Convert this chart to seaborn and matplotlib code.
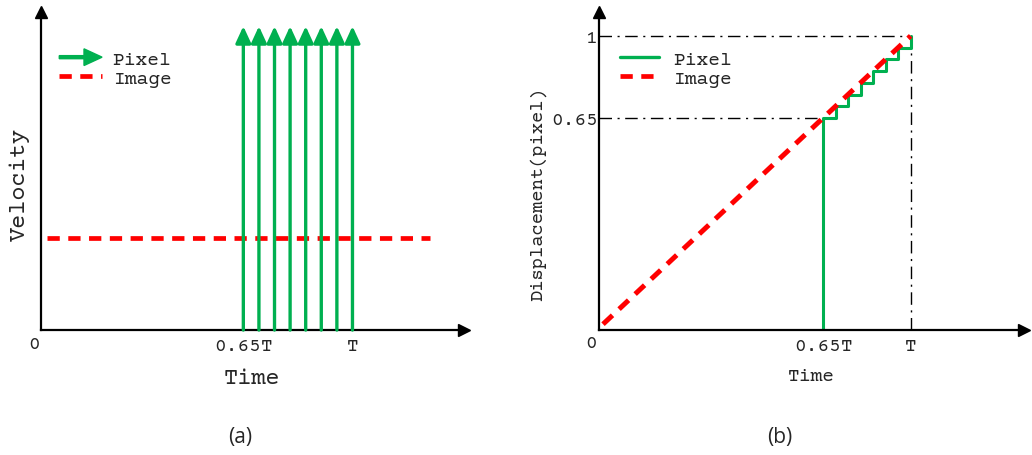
import matplotlib
matplotlib.use('Agg')
import matplotlib.pyplot as plt
import matplotlib.patches as mpatches
from matplotlib.lines import Line2D
from matplotlib.legend_handler import HandlerPatch
import seaborn as sns
import pandas as pd

# (a) velocity: pixel impulses between 0.65T and T, image velocity constant
pixel_times = [0.65, 0.70, 0.75, 0.80, 0.85, 0.90, 0.95, 1.00]
pixel_peak = 0.956
image_t = [0.02, 1.25]
image_v = [0.289, 0.289]
vel_ticks = [0.65, 1.0]
vel_ticklabels = ['0.65T', 'T']

# (b) displacement: staircase pixel vs linear image
disp_pixel_t = [0.72, 0.72, 0.76, 0.80, 0.84, 0.88, 0.92, 0.96, 1.00]
disp_pixel_d = [0.00, 0.72, 0.76, 0.80, 0.84, 0.88, 0.92, 0.96, 1.00]
disp_image_t = [0.012, 1.0]
disp_image_d = [0.02, 1.0]
disp_xticks = [0.72, 1.0]
disp_xticklabels = ['0.65T', 'T']
disp_yticks = [0.72, 1.0]
disp_yticklabels = ['0.65', '1']

GREEN = '#00B050'
RED = '#FF0000'
MONO = ['Courier Prime', 'Cutive Mono', 'DejaVu Sans Mono']

sns.set_style('white')
plt.rcParams['font.family'] = MONO


def arrow_handle(legend, orig_handle, xdescent, ydescent, width, height, fontsize):
    return mpatches.FancyArrow(0, 0.5 * height, width, 0, length_includes_head=True,
                               width=2.2, head_width=12, head_length=13, color=GREEN)


def axis_arrows(ax):
    sns.despine(ax=ax)
    for s in ['left', 'bottom']:
        ax.spines[s].set_linewidth(1.6)
        ax.spines[s].set_color('black')
    ax.plot(1, 0, '>k', ms=8, transform=ax.get_yaxis_transform(), clip_on=False)
    ax.plot(0, 1, '^k', ms=8, transform=ax.get_xaxis_transform(), clip_on=False)
    ax.tick_params(length=0, pad=6)


fig = plt.figure(figsize=(10.32, 4.56), dpi=100)
ax1 = fig.add_axes([0.0394, 0.274, 0.410, 0.697])
ax2 = fig.add_axes([0.5807, 0.274, 0.4115, 0.697])

# ---- (a)
ax1.set_xlim(0, 1.357)
ax1.set_ylim(0, 1.0)
for t in pixel_times:
    ax1.annotate('', xy=(t, pixel_peak), xytext=(t, 0),
                 arrowprops=dict(arrowstyle='-|>,head_length=0.5,head_width=0.23',
                                 color=GREEN, lw=2.4,
                                 mutation_scale=20, shrinkA=0, shrinkB=0))
df_img = pd.DataFrame({'t': image_t, 'v': image_v})
sns.lineplot(data=df_img, x='t', y='v', ax=ax1, color=RED, lw=3.4,
             dashes=False, legend=False)
ax1.lines[-1].set_dashes((2.6, 1.8))
ax1.set_xticks(vel_ticks)
ax1.set_xticklabels(vel_ticklabels, fontsize=14)
ax1.set_yticks([])
ax1.text(-0.02, -0.045, '0', ha='center', va='center', fontsize=14)
ax1.set_xlabel('Time', fontsize=17, labelpad=10)
ax1.set_ylabel('Velocity', fontsize=17)
ax1.yaxis.set_label_coords(-0.025, 0.46)
axis_arrows(ax1)

h_arrow = mpatches.FancyArrow(0, 0, 1, 0, color=GREEN)
h_img = Line2D([], [], color=RED, lw=3.4, dashes=(2.6, 1.8))
ax1.legend([h_arrow, h_img], ['Pixel', 'Image'], loc='upper left',
           bbox_to_anchor=(0.044, 0.88), frameon=False, fontsize=14,
           handlelength=2.2, handletextpad=0.55, labelspacing=0.05,
           borderpad=0, borderaxespad=0,
           handler_map={mpatches.FancyArrow: HandlerPatch(patch_func=arrow_handle)})

# ---- (b)
ax2.set_xlim(0, 1.364)
ax2.set_ylim(0, 1.0805)
dd = dict(color='black', lw=1.0, dashes=(9, 4, 1.5, 4))
ax2.plot([0, 1.0], [1.0, 1.0], **dd)
ax2.plot([0, 0.72], [0.72, 0.72], **dd)
ax2.plot([1.0, 1.0], [0, 1.0], **dd)
ax2.plot(disp_pixel_t, disp_pixel_d, color=GREEN, lw=2.2, drawstyle='steps-post')
df_disp = pd.DataFrame({'t': disp_image_t, 'd': disp_image_d})
sns.lineplot(data=df_disp, x='t', y='d', ax=ax2, color=RED, lw=3.6, legend=False)
ax2.lines[-1].set_dashes((2.6, 1.8))
ax2.set_xticks(disp_xticks)
ax2.set_xticklabels(disp_xticklabels, fontsize=14)
ax2.set_yticks(disp_yticks)
ax2.set_yticklabels(disp_yticklabels, fontsize=14)
ax2.text(-0.025, -0.045, '0', ha='center', va='center', fontsize=14)
ax2.set_xlabel('Time', fontsize=14, labelpad=10)
ax2.set_ylabel('Displacement(pixel)', fontsize=13.5)
ax2.yaxis.set_label_coords(-0.125, 0.43)
axis_arrows(ax2)
ax2.tick_params(axis='y', pad=1)

h_pix = Line2D([], [], color=GREEN, lw=2.4)
ax2.legend([h_pix, h_img], ['Pixel', 'Image'], loc='upper left',
           bbox_to_anchor=(0.048, 0.88), frameon=False, fontsize=14,
           handlelength=2.0, handletextpad=0.75, labelspacing=0.05,
           borderpad=0, borderaxespad=0)

fig.text(240 / 1032, 1 - 438 / 456, '(a)', ha='center', va='center',
         fontsize=15, family=['Open Sans', 'DejaVu Sans'])
fig.text(780 / 1032, 1 - 438 / 456, '(b)', ha='center', va='center',
         fontsize=15, family=['Open Sans', 'DejaVu Sans'])

fig.savefig('out.png', dpi=100)
